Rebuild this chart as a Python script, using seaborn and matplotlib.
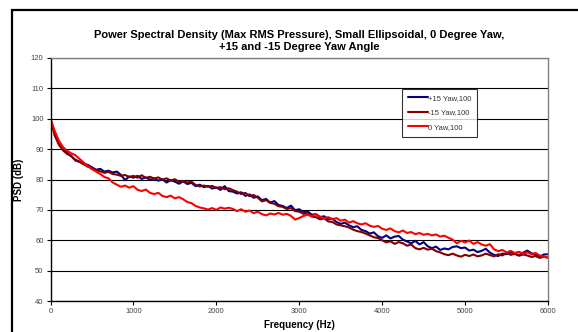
import numpy as np
import pandas as pd
import matplotlib
matplotlib.use("Agg")
import matplotlib.pyplot as plt
import seaborn as sns
from matplotlib.patches import Rectangle

# ---- data (50 Hz steps) ----
freq = list(range(0, 6001, 50))

yaw_p15 = [99.5, 95.5, 92.5, 90.5, 88.8, 87.6, 86.5, 85.9, 85.2, 84.8,
           84.0, 83.2, 83.5, 82.6, 82.9, 82.3, 82.6, 81.5, 79.8, 81.0,
           80.6, 81.2, 80.2, 80.7, 79.9, 80.4, 79.6, 80.1, 79.0, 79.8,
           79.3, 78.6, 79.4, 78.5, 78.9, 77.8, 78.3, 77.5, 77.9, 77.0,
           77.4, 76.6, 77.8, 76.2, 76.0, 75.4, 75.8, 74.6, 75.1, 74.0,
           74.4, 73.2, 73.6, 72.4, 72.9, 71.6, 71.3, 70.6, 71.4, 69.9,
           70.2, 69.2, 69.5, 68.4, 68.6, 67.6, 67.9, 66.9, 67.1, 66.0,
           65.4, 65.8, 64.9, 64.3, 64.6, 63.4, 63.0, 62.2, 62.6, 61.3,
           60.8, 61.6, 60.6, 61.2, 61.4, 60.2, 59.6, 59.0, 59.8, 58.6,
           59.4, 58.0, 57.4, 57.9, 56.8, 57.3, 57.0, 57.8, 58.0, 57.4,
           57.6, 56.6, 56.9, 56.1, 56.5, 57.2, 55.9, 55.2, 54.8, 55.6,
           55.4, 56.0, 55.6, 55.1, 55.9, 56.6, 55.7, 55.2, 54.6, 55.3,
           55.4]

yaw_m15 = [100.0, 94.5, 91.5, 89.6, 88.4, 87.8, 86.2, 85.8, 85.0, 84.2,
           83.8, 83.0, 82.7, 82.2, 82.5, 81.8, 81.6, 81.2, 81.5, 80.8,
           81.2, 80.6, 81.4, 80.5, 80.9, 80.3, 80.7, 79.9, 80.4, 79.6,
           80.1, 79.2, 79.5, 79.0, 79.3, 78.2, 77.7, 78.0, 77.6, 77.9,
           77.2, 77.5, 76.8, 77.1, 76.5, 76.0, 75.2, 75.6, 74.5, 74.9,
           74.0, 72.8, 73.2, 72.3, 72.0, 71.2, 71.0, 70.3, 70.6, 69.6,
           69.4, 68.7, 68.9, 67.8, 67.6, 66.9, 67.2, 66.2, 66.0, 65.2,
           64.9, 64.6, 64.2, 63.5, 63.0, 62.7, 62.2, 61.6, 61.0, 60.7,
           60.0, 59.3, 59.7, 58.8, 59.4, 59.0, 58.2, 58.6, 57.4, 57.0,
           57.5, 56.9, 57.2, 56.4, 56.0, 55.4, 55.1, 55.6, 55.0, 54.6,
           55.2, 54.8, 55.3, 54.7, 55.0, 55.6, 55.1, 54.7, 55.4, 55.0,
           55.8, 55.2, 55.5, 54.9, 55.3, 55.0, 54.5, 54.8, 54.2, 54.6,
           54.3]

yaw_0 = [100.0, 96.0, 92.8, 90.6, 89.5, 88.6, 88.0, 86.8, 85.6, 84.4,
         83.4, 82.6, 81.8, 80.8, 80.4, 79.0, 78.3, 77.6, 78.0, 77.3,
         77.8, 76.6, 76.2, 76.7, 75.6, 75.2, 75.6, 74.6, 74.2, 74.7,
         73.8, 74.2, 73.5, 72.6, 72.2, 71.3, 70.8, 70.5, 70.1, 70.6,
         70.0, 70.8, 70.4, 70.7, 70.3, 69.6, 70.2, 69.4, 69.8, 68.9,
         69.4, 68.6, 68.2, 68.8, 68.5, 69.0, 68.4, 68.7, 68.0, 66.8,
         67.3, 68.0, 68.4, 67.9, 68.6, 67.8, 67.2, 67.6, 66.9, 67.3,
         66.4, 66.8, 65.8, 66.3, 65.6, 65.2, 65.6, 64.8, 64.4, 64.7,
         63.8, 63.4, 63.9, 63.0, 62.6, 63.2, 62.4, 62.7, 62.0, 62.4,
         61.8, 62.1, 61.6, 61.9, 61.2, 61.5, 60.8, 60.2, 59.0, 59.8,
         59.3, 59.9, 58.8, 59.4, 58.6, 58.2, 58.7, 57.0, 56.4, 56.8,
         56.0, 56.5, 55.8, 56.2, 55.6, 56.0, 55.4, 55.8, 55.0, 54.6,
         54.2]

labels = ["+15 Yaw,100", "-15 Yaw,100", "0 Yaw,100"]
colors = ["#000080", "#800000", "#FF0000"]

df = pd.concat([
    pd.DataFrame({"freq": freq, "psd": yaw_p15, "series": labels[0]}),
    pd.DataFrame({"freq": freq, "psd": yaw_m15, "series": labels[1]}),
    pd.DataFrame({"freq": freq, "psd": yaw_0, "series": labels[2]}),
])

# ---- figure ----
sns.set_style("white")
plt.rcParams["font.family"] = ["Liberation Sans", "DejaVu Sans"]
plt.rcParams["text.color"] = "black"
plt.rcParams["axes.labelcolor"] = "black"

fig = plt.figure(figsize=(5.78, 3.32), dpi=100)
ax = fig.add_axes([50.5 / 578, 31 / 332, 497.5 / 578, 243 / 332])

# outer chart frame (runs off the right and bottom edges)
fig.patches.append(Rectangle((11.5 / 578, -0.1), 1.0, (332 - 10.5) / 332 + 0.1,
                             transform=fig.transFigure, fill=False,
                             edgecolor="black", linewidth=1.6, zorder=0))

sns.lineplot(data=df, x="freq", y="psd", hue="series", palette=colors,
             hue_order=labels, linewidth=1.5, ax=ax, estimator=None)

ax.set_xlim(0, 6000)
ax.set_ylim(40, 120)
ax.set_xticks(range(0, 6001, 1000))
ax.set_yticks(range(40, 121, 10))
ax.yaxis.grid(True, color="black", linewidth=0.8)
ax.set_axisbelow(True)

ax.tick_params(axis="both", labelsize=5.5, labelcolor="#444444",
               direction="out", length=3, width=0.8, color="black",
               left=True, bottom=True, pad=2)

for side in ["left", "bottom"]:
    ax.spines[side].set_color("black")
    ax.spines[side].set_linewidth(1.0)
for side in ["top", "right"]:
    ax.spines[side].set_color("#808080")
    ax.spines[side].set_linewidth(1.0)

ax.set_xlabel("Frequency (Hz)", fontsize=7, fontweight="bold", labelpad=4)
ax.set_ylabel("PSD (dB)", fontsize=7, fontweight="bold")
ax.yaxis.set_label_coords(-0.053, 0.5)
ax.set_title("Power Spectral Density (Max RMS Pressure), Small Ellipsoidal, 0 Degree Yaw,\n"
             "+15 and -15 Degree Yaw Angle",
             fontsize=8, fontweight="bold", pad=6, linespacing=1.15,
             color="black")

leg = ax.legend(loc="upper left", bbox_to_anchor=(0.7065, 0.874),
                fontsize=5.5, frameon=True, fancybox=False,
                edgecolor="black", handlelength=2.6, handletextpad=0.1,
                labelspacing=0.95, borderpad=0.75, borderaxespad=0)
leg.get_frame().set_linewidth(0.8)
for t in leg.get_texts():
    t.set_color("#333333")

fig.savefig("out.png", dpi=100)
plt.close(fig)
